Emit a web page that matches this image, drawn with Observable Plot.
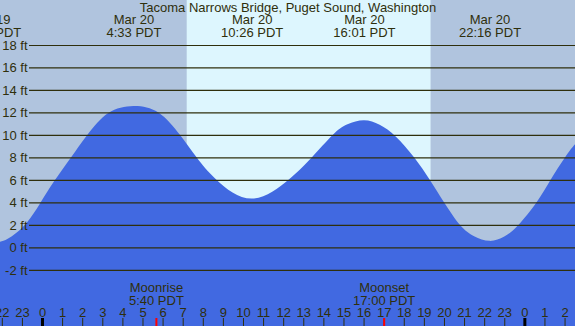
<!DOCTYPE html>
<html><head><meta charset="utf-8">
<script src="https://cdn.jsdelivr.net/npm/d3@7"></script>
<script src="https://cdn.jsdelivr.net/npm/@observablehq/plot@0.6"></script>
<style>html,body{margin:0;padding:0;background:#fff} svg{display:block}</style>
</head><body><div id="chart"></div>
<script>
const title = "Tacoma Narrows Bridge, Puget Sound, Washington";
// tide readings: hours from Mar 20 00:00 PDT, height in feet
const tideHours = [-2.6, -2.09, -1.5, -0.76, -0.1, 0.61, 1.44, 2.25, 3.3, 4.55, 5.79, 6.87, 7.7, 8.69, 10.43, 12.25, 13.42, 14.46, 15.2, 16.02, 16.8, 17.61, 18.52, 19.3, 20.01, 20.8, 21.5, 22.27, 23.0, 23.7, 24.6, 25.3, 26.02, 26.52, 27.0];
const tideFeet  = [0.4, 0.5, 1.0, 2.2, 3.9, 5.9, 8, 10, 11.95, 12.58, 12, 10, 8, 6, 4.34, 6, 8, 10, 10.95, 11.3, 10.9, 9.85, 8, 6, 4, 2, 1.0, 0.58, 0.96, 2, 4, 6, 8, 9.17, 10.1];
const extremeDays  = [19, 20, 20, 20, 20];
const extremeTimes = ["21:24", "4:33", "10:26", "16:01", "22:16"];
const moonEvents = ["Moonrise", "Moonset"];
const moonTimes  = ["5:40", "17:00"];
const sunTimes = ["7:12", "19:20"];
const gridFeet = [-2, 0, 2, 4, 6, 8, 10, 12, 14, 16, 18];
const hourTicks = [-2,-1,0,1,2,3,4,5,6,7,8,9,10,11,12,13,14,15,16,17,18,19,20,21,22,23,24,25,26];
const xDomain = [-2.09, 26.52];
const yDomain = [-6.99, 22];

const nightColor = "#b0c4de", dayColor = "#ddf6fe", water = "#4169e1", ink = "#2f2f0c";

function toHours(day, t) { const [h, m] = t.split(":").map(Number); return (day - 20) * 24 + h + m / 60; }

const tide = tideHours.map((h, i) => ({h, ft: tideFeet[i]}));
const extremes = extremeTimes.map((t, i) => ({h: toHours(extremeDays[i], t), day: extremeDays[i], t}));
const moon = moonEvents.map((e, i) => ({h: toHours(20, moonTimes[i]), e, t: moonTimes[i]}));
const sun = {x1: toHours(20, sunTimes[0]), x2: toHours(20, sunTimes[1])};

const chart = Plot.plot({
  width: 575, height: 326, margin: 0,
  x: {domain: xDomain, axis: null},
  y: {domain: yDomain, axis: null},
  style: {fontFamily: "Liberation Sans, Arial, sans-serif", fontSize: "13px", background: nightColor, color: ink},
  marks: [
    Plot.rect([sun], {x1: "x1", x2: "x2", fill: dayColor}),
    Plot.areaY(tide, {x: "h", y1: yDomain[0] - 1, y2: "ft", curve: "natural", fill: water, clip: true}),
    Plot.ruleY(gridFeet, {y: d => d, stroke: ink, strokeWidth: 1.2, insetLeft: 29}),
    Plot.text(gridFeet, {y: d => d, text: d => `${d} ft`, frameAnchor: "left", textAnchor: "end", dx: 27, fill: ink}),
    Plot.text([title], {frameAnchor: "top", text: d => d, lineAnchor: "middle", dy: 7.5, fill: ink}),
    Plot.text(extremes, {x: "h", frameAnchor: "top", text: d => `Mar ${d.day}`, lineAnchor: "middle", dy: 19.5, fill: ink}),
    Plot.text(extremes, {x: "h", frameAnchor: "top", text: d => `${d.t} PDT`, lineAnchor: "middle", dy: 32, fill: ink}),
    Plot.text(moon, {x: "h", frameAnchor: "bottom", text: "e", lineAnchor: "middle", dy: -39, fill: ink}),
    Plot.text(moon, {x: "h", frameAnchor: "bottom", text: d => `${d.t} PDT`, lineAnchor: "middle", dy: -26, fill: ink}),
    Plot.text(hourTicks, {x: d => d, frameAnchor: "bottom", text: d => String(((d % 24) + 24) % 24), lineAnchor: "middle", dy: -14, fill: ink}),
    Plot.ruleX(hourTicks.filter(d => d % 24 !== 0), {x: d => d, insetTop: 318, stroke: ink, strokeWidth: 1}),
    Plot.ruleX(hourTicks.filter(d => d % 24 === 0), {x: d => d, insetTop: 318, stroke: "#000", strokeWidth: 3}),
    Plot.ruleX(moon, {x: "h", insetTop: 318, stroke: "red", strokeWidth: 2})
  ]
});
document.getElementById("chart").appendChild(chart);
</script>
</body></html>
